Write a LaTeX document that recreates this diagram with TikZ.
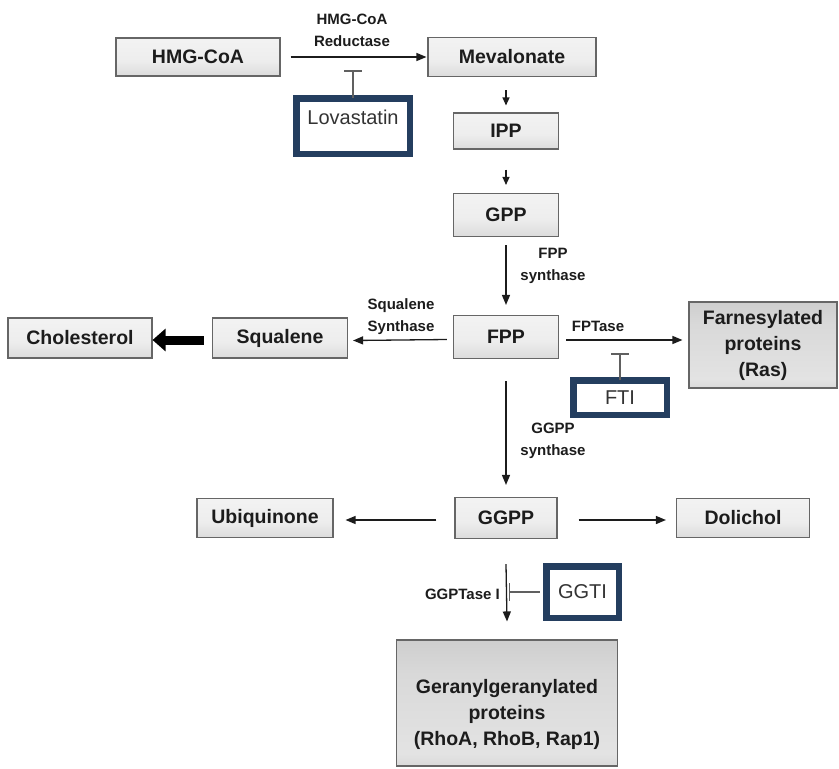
\documentclass[tikz,border=0pt]{standalone}
\usepackage{fontspec}
\setmainfont{Liberation Sans}
\usetikzlibrary{arrows.meta}
\definecolor{frameblue}{HTML}{243E5F}
\definecolor{inkk}{HTML}{1C1C1C}
\definecolor{boxedge}{HTML}{666666}
\pgfdeclareverticalshading{bigshade}{100bp}{color(0bp)=(gray!62); color(30bp)=(gray!22); color(62bp)=(gray!30); color(100bp)=(gray!55)}
\pgfdeclareverticalshading{smallshade}{100bp}{color(0bp)=(gray!45); color(45bp)=(gray!14); color(100bp)=(gray!6)}
\tikzset{
  box/.style={draw=boxedge, line width=1.1pt, shading=smallshade,
    font=\bfseries\fontsize{19.5}{22}\selectfont, text=inkk, inner sep=0pt, align=center},
  bigbox/.style={draw=boxedge, line width=1.1pt, shading=bigshade,
    font=\bfseries\fontsize{19.5}{26}\selectfont, text=inkk, inner sep=0pt, align=center},
  drugbox/.style={draw=frameblue, line width=6.5pt, fill=white, inner sep=0pt,
    font=\fontsize{20}{24}\selectfont, text=black!80},
  enz/.style={font=\bfseries\fontsize{15}{22}\selectfont, text=inkk, align=center, inner sep=0pt},
  arr/.style={draw=inkk, line width=1.3pt, -{Triangle[length=10pt,width=8pt]}},
  smallarr/.style={draw=inkk, line width=1.3pt, -{Triangle[length=8pt,width=7pt]}},
  thickarr/.style={draw=black, line width=9pt, -{Triangle[length=13pt,width=22pt]}},
  inh/.style={draw=gray!75!black, line width=1.4pt, -{Bar[width=18pt,line width=1.4pt]}},
}
\begin{document}
\begin{tikzpicture}[x=1pt,y=-1pt]
\useasboundingbox (0,0) rectangle (839,769);
% main boxes
\node[box, minimum width=164, minimum height=38] (hmg) at (198,57) {HMG-CoA};
\node[box, minimum width=168, minimum height=39] (mev) at (512,57) {Mevalonate};
\node[box, minimum width=105, minimum height=36] (ipp) at (506,131) {IPP};
\node[box, minimum width=105, minimum height=43] (gpp) at (506,215) {GPP};
\node[box, minimum width=105, minimum height=43] (fpp) at (506,337) {FPP};
\node[box, minimum width=135, minimum height=40] (sq) at (280,338) {Squalene};
\node[box, minimum width=144, minimum height=40] (chol) at (80,338) {Cholesterol};
\node[bigbox, minimum width=148, minimum height=86] (farn) at (763,345) {Farnesylated\\proteins\\(Ras)};
\node[box, minimum width=102, minimum height=41] (ggpp) at (506,518) {GGPP};
\node[box, minimum width=136, minimum height=39] (ubi) at (265,518) {Ubiquinone};
\node[box, minimum width=133, minimum height=39] (dol) at (743,518) {Dolichol};
\node[bigbox, minimum width=221, minimum height=126,
  label={[font=\bfseries\fontsize{19.5}{26}\selectfont, text=inkk, align=center, yshift=-11pt]center:Geranylgeranylated\\proteins\\(RhoA, RhoB, Rap1)}] (ggprot) at (507,703) {};
% drug boxes
\node[drugbox, minimum width=113.5, minimum height=55.5,
  label={[font=\fontsize{20}{24}\selectfont, text=black!80, yshift=9pt]center:Lovastatin}] (lova) at (353,126) {};
\node[drugbox, minimum width=93.5, minimum height=34.5] (fti) at (620,397.5) {FTI};
\node[drugbox, minimum width=72.5, minimum height=51.5] (ggti) at (582.5,592) {GGTI};
% enzyme labels
\node[enz] (lred) at (352,30) {HMG-CoA\\Reductase};
\node[enz] (lfpps) at (553,266) {FPP\\synthase};
\node[enz] (lsqs) at (401,317) {Squalene\\Synthase};
\node[enz] (lfpt) at (598,326) {FPTase};
\node[enz] (lggpps) at (553,441) {GGPP\\synthase};
\node[enz, anchor=east] (lggpt) at (500,594) {GGPTase I};
% connectors
\draw[arr] ([xshift=10pt]hmg.east) -- ([xshift=-1pt]mev.west);
\draw[smallarr] ([yshift=-13pt]mev.south -| ipp.north) -- ([yshift=7pt]ipp.north);
\draw[smallarr] ([yshift=-20pt]ipp.south) -- ([yshift=8pt]gpp.north);
\draw[arr] ([yshift=-8pt]gpp.south) -- ([yshift=10pt]fpp.north);
\draw[arr] ([xshift=-6pt,yshift=-2.5pt]fpp.west) -- ([xshift=5pt,yshift=-2.5pt]sq.east);
\draw[thickarr] ([xshift=-8pt,yshift=-2pt]sq.west) -- ([xshift=0pt,yshift=-2pt]chol.east);
\draw[arr] ([xshift=7pt,yshift=-3pt]fpp.east) -- ([xshift=-6pt,yshift=-3pt]fpp.east -| farn.west);
\draw[arr] ([yshift=-22pt]fpp.south) -- ([yshift=12pt]ggpp.north);
\draw[arr] ([xshift=-18pt,yshift=-2pt]ggpp.west) -- ([xshift=12pt,yshift=-2pt]ggpp.west -| ubi.east);
\draw[arr] ([xshift=21pt,yshift=-2pt]ggpp.east) -- ([xshift=-10pt,yshift=-2pt]ggpp.east -| dol.west);
\draw[arr] ([yshift=-25pt]ggpp.south) -- ([yshift=18pt]ggprot.north);
% inhibitions
\draw[inh] ([yshift=-3.25pt]lova.north) -- ++(0,-28);
\draw[inh] ([yshift=-3.25pt]fti.north) -- ++(0,-27);
\draw[inh] ([xshift=-3.25pt]ggti.west) -- ++(-31,0);
\end{tikzpicture}
\end{document}
